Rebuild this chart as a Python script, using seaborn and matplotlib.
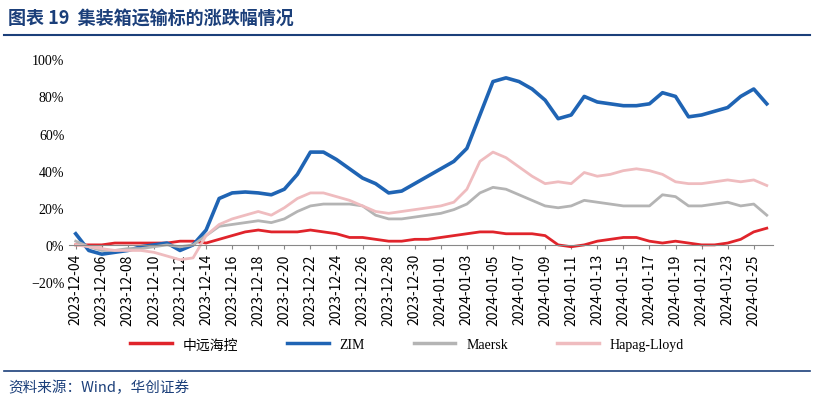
import pandas as pd
import numpy as np
import seaborn as sns
import matplotlib.pyplot as plt
from matplotlib.lines import Line2D
from matplotlib.ticker import PercentFormatter, FixedLocator, FixedFormatter

plt.rcParams['font.family'] = ['Noto Sans CJK SC']

dates = pd.date_range('2023-12-04', '2024-01-26', freq='D')

cosco = [0, 0, 0, 1, 1, 1, 1, 1, 2, 2, 1, 3, 5, 7, 8, 7, 7, 7, 8, 7, 6, 4, 4, 3, 2, 2, 3, 3,
         4, 5, 6, 7, 7, 6, 6, 6, 5, 0, -1, 0, 2, 3, 4, 4, 2, 1, 2, 1, 0, 0, 1, 3, 7, 9]
zim = [6, -3, -5, -4, -3, -1, 0, 1, -3, 0, 8, 25, 28, 28.5, 28, 27, 30, 38, 50, 50, 46, 41, 36, 33,
       28, 29, 33, 37, 41, 45, 52, 70, 88, 90, 88, 84, 78, 68, 70, 80, 77, 76, 75, 75, 76, 82,
       80, 69, 70, 72, 74, 80, 84, 76]
maersk = [2, -1, -3, -3, -2, -2, -1, 0, -1, 0, 5, 10, 11, 12, 13, 12, 14, 18, 21, 22, 22, 22, 21, 16,
          14, 14, 15, 16, 17, 19, 22, 28, 31, 30, 27, 24, 21, 20, 21, 24, 23, 22, 21, 21, 21, 27,
          26, 21, 21, 22, 23, 21, 22, 16]
hapag = [0, -1, -2, -3, -3, -3, -4, -6, -8, -7, 5, 11, 14, 16, 18, 16, 20, 25, 28, 28, 26, 24, 21, 18,
         17, 18, 19, 20, 21, 23, 30, 45, 50, 47, 42, 37, 33, 34, 33, 39, 37, 38, 40, 41, 40, 38,
         34, 33, 33, 34, 35, 34, 35, 32]

names = ['中远海控', 'ZIM', 'Maersk', 'Hapag-Lloyd']
colors = ['#e0242b', '#1f64b4', '#b4b4b4', '#efbcbf']

df = pd.DataFrame({'date': dates, names[0]: cosco, names[1]: zim,
                   names[2]: maersk, names[3]: hapag})
long_df = df.melt(id_vars='date', var_name='name', value_name='pct')

fig = plt.figure(figsize=(8.14, 4.02), dpi=100)
ax = fig.add_axes([0.085, 0.296, 0.865, 0.554])
sns.lineplot(data=long_df, x='date', y='pct', hue='name', palette=colors,
             hue_order=names, linewidth=2.0, legend=False, ax=ax)
for line in ax.get_lines():
    if line.get_color() == colors[1]:
        line.set_linewidth(2.6)

ax.set_ylim(-20, 100)
ax.set_yticks(range(-20, 101, 20))
ax.yaxis.set_major_formatter(PercentFormatter(decimals=0))
ax.set_xlim(dates[0] - pd.Timedelta(days=0.5), dates[-1] + pd.Timedelta(days=0.5))
ticks = dates[::2]
import matplotlib.dates as mdates
ax.xaxis.set_major_locator(FixedLocator(mdates.date2num(ticks)))
ax.xaxis.set_major_formatter(FixedFormatter([d.strftime('%Y-%m-%d') for d in ticks]))
for lab in ax.get_xticklabels():
    lab.set_rotation(90)
    lab.set_fontfamily('Liberation Serif')
    lab.set_fontsize(9)
for lab in ax.get_yticklabels():
    lab.set_fontfamily('Liberation Serif')
    lab.set_fontsize(10)
ax.set_xlabel('')
ax.set_ylabel('')
for s in ['top', 'right', 'left']:
    ax.spines[s].set_visible(False)
ax.spines['bottom'].set_position(('data', 0))
ax.spines['bottom'].set_color('#888888')
ax.tick_params(axis='y', length=0)
ax.tick_params(axis='x', length=3, color='#888888', pad=3, labelrotation=90)

handles = [Line2D([0], [0], color=c, lw=2.5) for c in colors]
fig.legend(handles, names, loc='center', bbox_to_anchor=(0.5, 0.14), ncol=4,
           frameon=False, prop={'family': ['Liberation Serif', 'Noto Sans CJK SC'], 'size': 10},
           columnspacing=3.5, handlelength=3)

fig.text(0.01, 0.955, '图表 19  集装箱运输标的涨跌幅情况', fontsize=13, fontweight='bold',
         color='#1b3f7a', va='center')
fig.add_artist(Line2D([0.005, 0.995], [0.91, 0.91], color='#1b3f7a', lw=1.5))
fig.add_artist(Line2D([0.005, 0.995], [0.075, 0.075], color='#1b3f7a', lw=1.2))
fig.text(0.01, 0.035, '资料来源：Wind，华创证券', fontsize=10.5, style='italic',
         color='#1b3f7a', va='center')

fig.savefig('out.png', dpi=100)
